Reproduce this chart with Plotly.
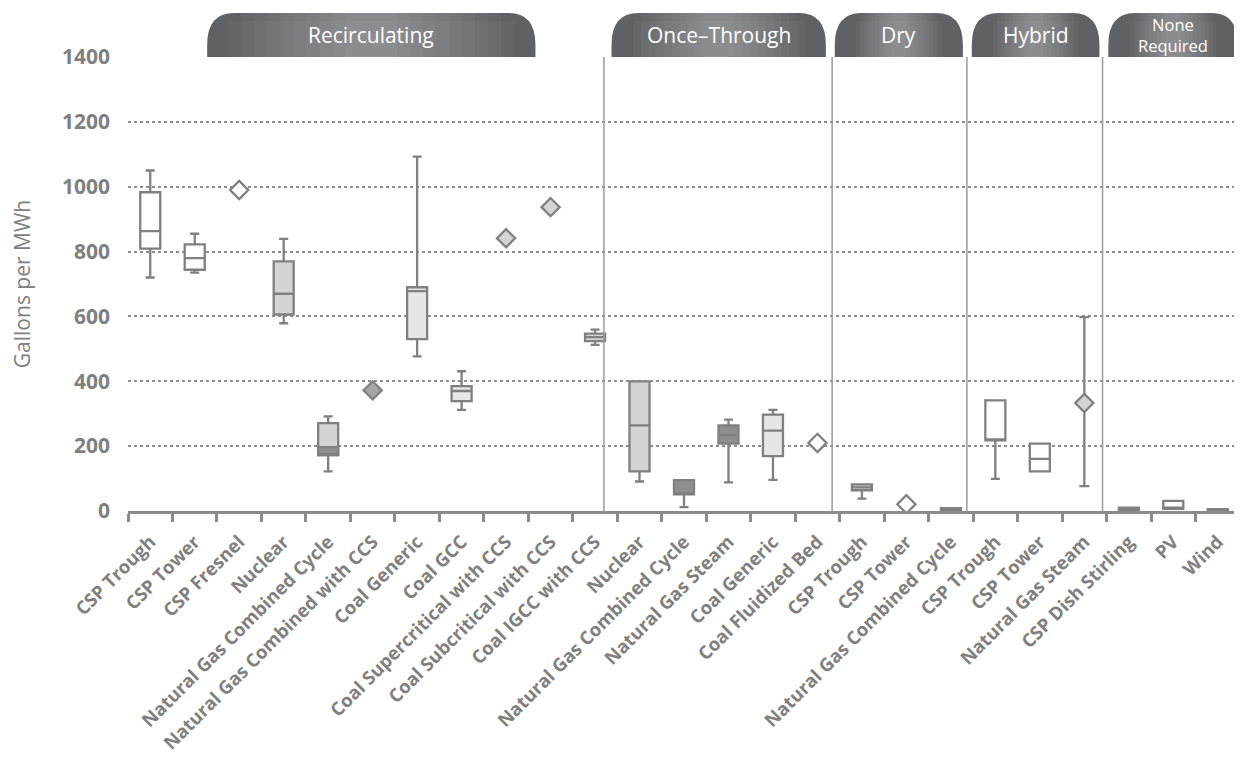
import plotly.graph_objects as go

# categories, left to right
CATEGORIES = [
    "CSP Trough", "CSP Tower", "CSP Fresnel", "Nuclear", "Natural Gas Combined Cycle",
    "Natural Gas Combined with CCS", "Coal Generic", "Coal GCC",
    "Coal Supercritical with CCS", "Coal Subcritical with CCS", "Coal IGCC with CCS",
    "Nuclear", "Natural Gas Combined Cycle", "Natural Gas Steam", "Coal Generic",
    "Coal Fluidized Bed",
    "CSP Trough", "CSP Tower", "Natural Gas Combined Cycle",
    "CSP Trough", "CSP Tower", "Natural Gas Steam",
    "CSP Dish Stirling", "PV", "Wind",
]

# box statistics (gallons per MWh), None where there is no box
LOW    = [720, 735, None, 579, 122, None, 477, 312, None, None, 512,
          91, 12, 88, 96, None, 38, None, 0, 99, 122, 77, 0, 7, 0]
Q1     = [809, 744, None, 606, 172, None, 530, 339, None, None, 524,
          122, 51, 208, 169, None, 64, None, 0, 218, 122, None, 0, 7, 0]
MEDIAN = [863, 780, None, 670, 197, None, 678, 370, None, None, 536,
          264, 51, 235, 248, None, 73, None, 0, 218, 161, None, 0, 7, 0]
Q3     = [983, 822, None, 770, 271, None, 690, 385, None, None, 547,
          400, 95, 264, 297, None, 82, None, 9, 341, 208, None, 10, 31, 6]
HIGH   = [1050, 855, None, 839, 292, None, 1093, 431, None, None, 559,
          400, 95, 282, 312, None, 82, None, 9, 341, 208, 598, 10, 31, 6]
# single estimates drawn as diamonds
POINT  = [None, None, 990, None, None, 372, None, None, 841, 937, None,
          None, None, None, None, 210, None, 21, None, None, None, 333, None, None, None]

GROUPS = ["Recirculating", "Once\u2013Through", "Dry", "Hybrid", "None<br>Required"]

# --- styling ---
FILL = ["white", "white", "white", "light", "split", "mid", "pale", "pale", "light", "light", "light",
        "light", "dark", "dark", "pale", "white", "light", "white", "dark",
        "white", "white", "light", "dark", "white", "dark"]
COLORS = {"white": "#ffffff", "light": "#d4d4d4", "pale": "#e6e6e6",
          "mid": "#a6a6a6", "dark": "#8e8e8e", "split": "#d4d4d4"}
LINE = "#808080"
TEXT = "#808080"
TAB_SPANS = [(1.28, 8.66), (10.37, 15.19), (15.39, 18.27), (18.47, 21.34), (21.54, 24.45)]
SEPARATORS = [10.2, 15.33, 18.36, 21.41]

n = len(CATEGORIES)
fig = go.Figure()

for key in ["white", "light", "pale", "split", "dark"]:
    idx = [i for i in range(n) if FILL[i] == key and Q1[i] is not None]
    if not idx:
        continue
    fig.add_trace(go.Box(
        x=idx,
        q1=[Q1[i] for i in idx], median=[MEDIAN[i] for i in idx], q3=[Q3[i] for i in idx],
        lowerfence=[LOW[i] for i in idx], upperfence=[HIGH[i] for i in idx],
        fillcolor=COLORS[key], line=dict(color=LINE, width=2.3),
        width=0.45, whiskerwidth=0.45, boxpoints=False, showlegend=False, hoverinfo="skip",
    ))

# lower half of the two-tone box
idx = [i for i in range(n) if FILL[i] == "split"]
fig.add_trace(go.Box(
    x=idx,
    q1=[Q1[i] for i in idx], median=[Q1[i] for i in idx], q3=[MEDIAN[i] for i in idx],
    lowerfence=[Q1[i] for i in idx], upperfence=[MEDIAN[i] for i in idx],
    fillcolor=COLORS["dark"], line=dict(color=LINE, width=2.3),
    width=0.45, whiskerwidth=0.45, boxpoints=False, showlegend=False, hoverinfo="skip",
))

for key in ["white", "light", "mid"]:
    idx = [i for i in range(n) if FILL[i] == key and POINT[i] is not None]
    if not idx:
        continue
    up = [(HIGH[i] - POINT[i]) if HIGH[i] is not None else 0 for i in idx]
    dn = [(POINT[i] - LOW[i]) if LOW[i] is not None else 0 for i in idx]
    fig.add_trace(go.Scatter(
        x=idx, y=[POINT[i] for i in idx], mode="markers",
        marker=dict(symbol="diamond", size=14, color=COLORS[key], line=dict(color=LINE, width=2.3)),
        error_y=dict(type="data", array=up, arrayminus=dn, color=LINE, thickness=2.3, width=5),
        showlegend=False, hoverinfo="skip",
    ))

# group separators
shapes = []
for s in SEPARATORS:
    shapes.append(dict(type="line", xref="x", yref="y", x0=s, x1=s, y0=0, y1=1400,
                       line=dict(color="#9a9a9a", width=1.5), layer="above"))

# header tabs with rounded tops and a light centre
y0, y1 = 1.0, 1.097
ry = 0.07
annotations = []
for (a, b), name in zip(TAB_SPANS, GROUPS):
    rx = 0.6
    path = (f"M {a},{y0} L {a},{y1 - ry} Q {a},{y1} {a + rx},{y1} "
            f"L {b - rx},{y1} Q {b},{y1} {b},{y1 - ry} L {b},{y0} Z")
    shapes.append(dict(type="path", xref="x", yref="paper", path=path,
                       fillcolor="#606165", line=dict(width=0), layer="above"))
    half = (b - a) / 2
    for k in range(10):
        inset = rx * 0.8 + k * (half - rx * 0.8) / 11
        shapes.append(dict(type="rect", xref="x", yref="paper", x0=a + inset, x1=b - inset,
                           y0=y0, y1=y1 - (ry * 0.25 if k == 0 else 0),
                           fillcolor="rgba(255,255,255,0.036)", line=dict(width=0), layer="above"))
    small = "<br>" in name
    annotations.append(dict(x=(a + b) / 2, y=(y0 + y1) / 2, xanchor="center", yanchor="middle",
                            xref="x", yref="paper", text=name, showarrow=False,
                            font=dict(family="Open Sans", size=16.5 if small else 21, color="white")))

# the page body adds an 8px margin, so the figure is sized to fit the window
fig.update_layout(
    width=1234, height=756,
    margin=dict(l=120, r=2, t=49, b=253),
    plot_bgcolor="white", paper_bgcolor="white",
    boxmode="overlay",
    shapes=shapes, annotations=annotations,
    xaxis=dict(
        range=[-0.5, n - 0.5], tickmode="array", tickvals=list(range(n)), ticktext=CATEGORIES,
        tickangle=-45, tickfont=dict(family="Open Sans", size=18.5, color=TEXT, weight="bold"),
        ticks="outside", ticklen=10, tickcolor="rgba(0,0,0,0)", automargin=False,
        showline=True, linecolor="#8c8c8c", linewidth=2.5, showgrid=False, zeroline=False,
        minor=dict(tickmode="array", tickvals=[i - 0.5 for i in range(n + 1)], ticks="outside",
                   ticklen=8, tickwidth=2.5, tickcolor="#8c8c8c", showgrid=False),
    ),
    yaxis=dict(
        range=[0, 1400], tickmode="array", tickvals=list(range(0, 1401, 200)),
        tickfont=dict(family="Open Sans", size=21, color=TEXT, weight="bold"),
        showgrid=True, gridcolor="#8c8c8c", griddash="dot", gridwidth=1.5,
        zeroline=False, showline=False, ticklabelstandoff=17, automargin=False,
        title=dict(text="Gallons per MWh", standoff=28,
                   font=dict(family="Open Sans", size=21, color=TEXT)),
    ),
)

fig.write_html("out.html")
